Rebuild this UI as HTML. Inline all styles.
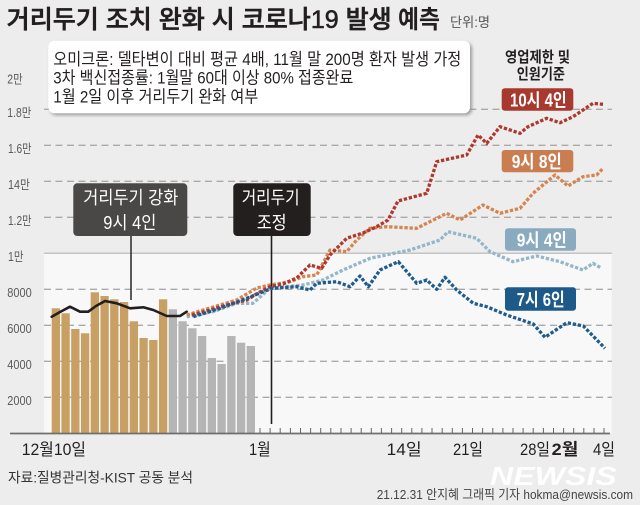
<!DOCTYPE html>
<html><head><meta charset="utf-8"><style>
html,body{margin:0;padding:0;background:#ededed;}
svg{display:block;}
text{font-family:"Liberation Sans","Noto Sans CJK KR",sans-serif;}
</style></head><body>
<svg width="640" height="505" viewBox="0 0 640 505" xmlns="http://www.w3.org/2000/svg">
<defs>
<filter id="sh" x="-5%" y="-10%" width="115%" height="130%">
<feDropShadow dx="2" dy="2" stdDeviation="1.6" flood-color="#888" flood-opacity="0.8"/>
</filter>
</defs>
<rect width="640" height="505" fill="#ededed"/>
<rect x="44" y="253.3" width="567.7" height="180" fill="#f8f8f8"/>
<g stroke="#aaaaaa" stroke-width="1.3" stroke-dasharray="7 4.5" fill="none">
<line x1="44" y1="109.3" x2="612" y2="109.3"/>
<line x1="44" y1="145.3" x2="612" y2="145.3"/>
<line x1="44" y1="181.3" x2="612" y2="181.3"/>
<line x1="44" y1="217.3" x2="612" y2="217.3"/>
<line x1="44" y1="289.3" x2="612" y2="289.3"/>
<line x1="44" y1="325.3" x2="612" y2="325.3"/>
<line x1="44" y1="361.3" x2="612" y2="361.3"/>
<line x1="44" y1="397.3" x2="612" y2="397.3"/>
</g>
<line x1="44" y1="253.3" x2="612" y2="253.3" stroke="#c4c4c4" stroke-width="1.5"/>
<g fill="#5a5a5a" font-size="12.5">
<text x="7.3" y="83.5" textLength="15.4" lengthAdjust="spacingAndGlyphs">2만</text>
<text x="7.3" y="116.8" textLength="24" lengthAdjust="spacingAndGlyphs">1.8만</text>
<text x="8" y="152.8" textLength="23.5" lengthAdjust="spacingAndGlyphs">1.6만</text>
<text x="8" y="188.8" textLength="22" lengthAdjust="spacingAndGlyphs">14만</text>
<text x="8" y="224.8" textLength="23.5" lengthAdjust="spacingAndGlyphs">1.2만</text>
<text x="8" y="260.8" textLength="15.5" lengthAdjust="spacingAndGlyphs">1만</text>
<text x="7.3" y="296.8" textLength="24.4" lengthAdjust="spacingAndGlyphs">8000</text>
<text x="7.3" y="332.8" textLength="24.4" lengthAdjust="spacingAndGlyphs">6000</text>
<text x="7.3" y="368.8" textLength="24.4" lengthAdjust="spacingAndGlyphs">4000</text>
<text x="7.3" y="404.8" textLength="24.4" lengthAdjust="spacingAndGlyphs">2000</text>
</g>
<g fill="#c9a064">
<rect x="51.7" y="308.3" width="8.3" height="125"/>
<rect x="61.45" y="313.3" width="8.3" height="120"/>
<rect x="71.2" y="329" width="8.3" height="104.3"/>
<rect x="80.95" y="333.3" width="8.3" height="100"/>
<rect x="90.7" y="292.3" width="8.3" height="141"/>
<rect x="100.45" y="296" width="8.3" height="137.3"/>
<rect x="110.2" y="299.3" width="8.3" height="134"/>
<rect x="119.95" y="302" width="8.3" height="131.3"/>
<rect x="129.7" y="321.3" width="8.3" height="112"/>
<rect x="139.45" y="338" width="8.3" height="95.3"/>
<rect x="149.2" y="340" width="8.3" height="93.3"/>
<rect x="158.95" y="299.3" width="8.3" height="134"/>
</g>
<g fill="#b5b5b5">
<rect x="168.7" y="309.3" width="8.3" height="124"/>
<rect x="178.45" y="321.3" width="8.3" height="112"/>
<rect x="188.2" y="328.3" width="8.3" height="105"/>
<rect x="197.95" y="336" width="8.3" height="97.3"/>
<rect x="207.7" y="358" width="8.3" height="75.3"/>
<rect x="217.45" y="364" width="8.3" height="69.3"/>
<rect x="227.2" y="336" width="8.3" height="97.3"/>
<rect x="236.95" y="342.7" width="8.3" height="90.6"/>
<rect x="246.7" y="346" width="8.3" height="87.3"/>
</g>
<line x1="10" y1="433.5" x2="610" y2="433.5" stroke="#6e6e6e" stroke-width="1.8"/>
<g stroke="#666" stroke-width="1">
<path d="M260 428v5M270.1 428v5M280.2 428v5M290.4 428v5M300.5 428v5M310.6 428v5M320.7 428v5M330.8 428v5M341 428v5M351.1 428v5M361.2 428v5M371.3 428v5M381.4 428v5M391.6 428v5M401.7 428v5M411.8 428v5M421.9 428v5M432 428v5M442.2 428v5M452.3 428v5M462.4 428v5M472.5 428v5M482.6 428v5M492.8 428v5M502.9 428v5M513 428v5M523.1 428v5M533.2 428v5M543.4 428v5M553.5 428v5M563.6 428v5M573.7 428v5M583.8 428v5M594 428v5M604 428v5"/>
</g>
<line x1="131" y1="236" x2="131" y2="300" stroke="#2a2627" stroke-width="1.5"/>
<line x1="271.5" y1="236" x2="271.5" y2="424" stroke="#231f20" stroke-width="1.6"/>
<polyline fill="none" stroke="#231f20" stroke-width="2.6" stroke-linejoin="round" stroke-linecap="round" points="51.7,316.7 60,312 70,306.7 80,311.7 88.3,311.7 96,306 105,301 116.7,303.3 130,308.3 143.3,307.3 153.3,310 166.7,316 180,316 186.7,311.7"/>
<g fill="none" stroke-width="3.3" stroke-dasharray="3.3 1.8" stroke-linejoin="round">
<polyline stroke="#93b6c8" points="186.7,316.7 213,311.7 236.7,303.3 253,303.3 270,288.3 303,285 323,280 343,270 370,258.3 410,250 440,240 448,231.7 476.7,238.3 490,251.7 513,261.7 536.7,256 560,261.7 583,270 593,263.3 601.7,268.3"/>
<polyline stroke="#d6844f" points="186.7,315 210,308 236.7,300 256.7,288 270,285 290,281.7 303,276.7 316.7,275 330,250 346.7,251.7 356.7,240 370,228.3 386.7,226.7 416.7,228.3 446.7,213.3 460,220 483,205 500,213.3 520,208.3 533,193.3 555,175 568,186 583,176.7 596.7,175 603,168.3"/>
<polyline stroke="#b0372d" points="191.7,315 210,310 226.7,305 246.7,300 258,293 270,286.7 283,284 296.7,278 310,265 321.7,268.3 330,255 346.7,238.3 363,233 376.7,226.7 388,220 398,201 426.7,193.3 436.7,161.7 466.7,155 478,135 486.7,143.3 500,126.7 520,133.3 528,126.7 546.7,118.3 560,122.7 573,116.7 593,103.3 603,104.3"/>
<polyline stroke="#1f5b8c" points="193.3,316.7 220,308.3 246.7,298.3 271.7,288.3 296.7,286.7 310,290 316.7,283.3 336.7,281.7 350,286.7 360,276 368.3,286.7 380,270 398.3,261.7 416.7,283.3 426.7,280 436.7,289.3 445,277.3 456.7,290 473.3,303.3 486.7,306.7 506.7,315 533.3,324 545,337.3 566.7,322.7 583.3,326 605,348.3"/>
</g>
<rect x="73.3" y="183.3" width="114" height="52.7" rx="4" fill="#4a4747"/>
<text x="83.3" y="204" font-size="18" fill="#fff" textLength="95" lengthAdjust="spacingAndGlyphs">거리두기 강화</text>
<text x="103.3" y="229" font-size="18" fill="#fff" textLength="53" lengthAdjust="spacingAndGlyphs">9시 4인</text>
<rect x="233.3" y="183.3" width="77.4" height="52.7" rx="4" fill="#231f1e"/>
<text x="241.7" y="204" font-size="18" fill="#fff" textLength="58" lengthAdjust="spacingAndGlyphs">거리두기</text>
<text x="256.7" y="229" font-size="18" fill="#fff" textLength="30" lengthAdjust="spacingAndGlyphs">조정</text>
<rect x="501.7" y="88.3" width="71.6" height="22.4" rx="3" fill="#a8392f"/>
<text x="510" y="106.5" font-size="18" font-weight="bold" fill="#fff" textLength="56.7" lengthAdjust="spacingAndGlyphs">10시 4인</text>
<rect x="501.7" y="150" width="71.6" height="22.3" rx="3" fill="#c97d51"/>
<text x="511.7" y="168" font-size="18" font-weight="bold" fill="#fff" textLength="50" lengthAdjust="spacingAndGlyphs">9시 8인</text>
<rect x="505" y="228.3" width="71" height="22.4" rx="3" fill="#8aaabf"/>
<text x="516.7" y="246.5" font-size="18" font-weight="bold" fill="#fff" textLength="50" lengthAdjust="spacingAndGlyphs">9시 4인</text>
<rect x="505" y="287.3" width="71" height="23.4" rx="3" fill="#1e5a89"/>
<text x="516.7" y="306" font-size="18" font-weight="bold" fill="#fff" textLength="48" lengthAdjust="spacingAndGlyphs">7시 6인</text>
<text x="505" y="62" font-size="15" font-weight="bold" fill="#231f20" textLength="65" lengthAdjust="spacingAndGlyphs">영업제한 및</text>
<text x="516.7" y="79" font-size="15" font-weight="bold" fill="#231f20" textLength="48.3" lengthAdjust="spacingAndGlyphs">인원기준</text>
<rect x="48.3" y="40.7" width="421.7" height="72.6" rx="6" fill="#ffffff" filter="url(#sh)"/>
<g fill="#231f20" font-size="17">
<text x="53.3" y="65" textLength="408" lengthAdjust="spacingAndGlyphs">오미크론: 델타변이 대비 평균 4배, 11월 말 200명 환자 발생 가정</text>
<text x="53.3" y="83.3" textLength="300" lengthAdjust="spacingAndGlyphs">3차 백신접종률: 1월말 60대 이상 80% 접종완료</text>
<text x="53.3" y="102.3" textLength="205" lengthAdjust="spacingAndGlyphs">1월 2일 이후 거리두기 완화 여부</text>
</g>
<text x="6.7" y="27.8" font-size="25" font-weight="500" fill="#231f20" stroke="#231f20" stroke-width="0.6" textLength="385" lengthAdjust="spacingAndGlyphs">거리두기 조치 완화 시 코로나19 발생</text>
<text x="398" y="27.8" font-size="25" font-weight="bold" fill="#231f20" textLength="42" lengthAdjust="spacingAndGlyphs">예측</text>
<text x="450" y="27" font-size="13.5" fill="#555" textLength="40" lengthAdjust="spacingAndGlyphs">단위:명</text>
<g fill="#231f20" font-size="16.5">
<text x="21.7" y="455" textLength="64.3" lengthAdjust="spacingAndGlyphs">12월10일</text>
<text x="249" y="455" textLength="21.7" lengthAdjust="spacingAndGlyphs">1월</text>
<text x="386.7" y="455" textLength="35" lengthAdjust="spacingAndGlyphs">14일</text>
<text x="453" y="455" textLength="30" lengthAdjust="spacingAndGlyphs">21일</text>
<text x="520" y="455" textLength="30" lengthAdjust="spacingAndGlyphs">28일</text>
<text x="551.7" y="455" font-weight="bold" textLength="26.6" lengthAdjust="spacingAndGlyphs">2월</text>
<text x="593" y="455" textLength="22" lengthAdjust="spacingAndGlyphs">4일</text>
</g>
<text x="490" y="485" font-size="25.5" font-weight="bold" font-style="italic" fill="#ffffff" fill-opacity="0.95" textLength="126.7" lengthAdjust="spacingAndGlyphs">NEWSIS</text>
<text x="8" y="482.5" font-size="14" fill="#333" textLength="185" lengthAdjust="spacingAndGlyphs">자료:질병관리청-KIST 공동 분석</text>
<text x="376.7" y="499" font-size="13" fill="#444" textLength="256.3" lengthAdjust="spacingAndGlyphs">21.12.31 안지혜 그래픽 기자 hokma@newsis.com</text>
</svg>
</body></html>
